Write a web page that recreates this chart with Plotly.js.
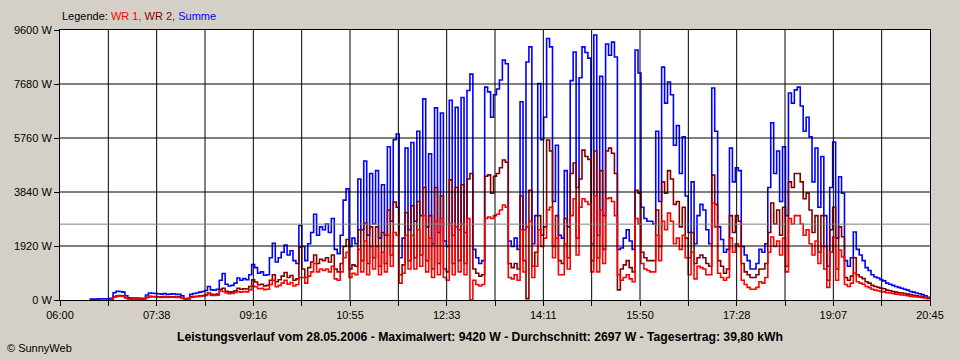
<!DOCTYPE html>
<html><head><meta charset="utf-8">
<script src="https://cdn.plot.ly/plotly-3.0.1.min.js"></script>
<style>html,body{margin:0;padding:0;background:#D4D0C8;}#chart{width:960px;height:360px;}</style>
</head><body><div id="chart"></div>
<script>
// ---- data ----
const dayStart = "06:00";
const dayEnd = "20:45";
const firstSample = "06:30";
const stepMinutes = 3;

const summe = [
 30,30,30,40,40,40,40,60,260,310,
 300,280,150,80,70,70,70,60,60,180,
 250,240,230,220,210,230,200,210,220,200,
 200,150,30,60,200,230,250,280,300,340,
 480,360,350,380,700,940,560,500,520,600,
 780,700,760,720,900,1260,1150,950,1000,880,
 900,1500,2020,1350,1500,1700,1950,1600,1750,1400,
 1300,2650,1900,1400,2000,2400,3050,2300,2600,2500,
 2700,2400,2900,1800,1650,2300,3550,3950,1900,2200,
 2000,4300,2500,4940,2300,4500,2700,4600,2200,4100,
 2300,5450,2800,5700,5900,1500,2200,5400,2500,5600,
 2800,6000,3000,7150,2600,5200,2000,6830,2400,6650,
 2100,1900,7100,2300,6850,2500,7200,2400,7450,8030,
 1800,1500,1300,1400,7570,7400,6500,7300,7500,7820,
 8530,8400,2100,1900,2200,1800,7050,2500,8460,9000,
 2000,3000,7700,5700,6500,9300,9000,3500,5500,2300,
 2200,4600,2600,7800,8820,4000,7900,9000,8800,8600,
 2000,9420,2300,7950,3000,9100,8700,9170,8640,1800,
 1850,2200,2500,2100,1800,8890,8070,3300,2900,2800,
 2800,2700,6000,3500,8280,7000,7750,7300,5500,6200,
 4500,5800,3700,2400,4200,2000,3000,3400,3200,2500,
 2000,7540,6000,2600,2150,1700,1800,5400,4200,4700,
 4600,1900,1600,1400,1100,1100,1300,1800,1700,2000,
 4000,6300,4500,5300,3500,5450,3000,7360,7000,7470,
 7570,6900,6000,6500,5800,4200,5400,3300,5100,3000,
 1200,4000,5620,2200,4380,3800,1400,1200,1500,2420,
 1800,1600,1400,1150,1050,900,820,780,720,680,
 600,560,520,480,450,420,380,350,300,280,
 250,220,190,150,100,60
];

const wr2 = [
 null,null,null,null,null,null,null,20,120,150,
 160,150,80,40,40,40,35,30,30,100,
 130,125,120,115,110,120,105,110,115,105,
 110,80,20,30,110,125,135,150,160,180,
 250,200,190,210,380,420,310,280,290,330,
 420,380,400,390,480,720,640,540,560,500,
 520,700,900,650,720,850,980,800,870,700,
 750,1880,1100,800,1150,1350,1600,1300,1450,1400,
 1500,1350,1600,1100,1000,1300,1900,2150,1100,1250,
 1200,2500,1400,2740,1300,2600,1500,2600,1200,2400,
 1300,3200,1600,3480,3300,900,1250,3100,1400,3350,
 1500,3500,1600,4000,1400,3000,1100,4000,1300,3700,
 1100,1000,4270,1300,4000,1400,4100,1300,4300,4500,
 1100,950,850,900,4400,4450,3800,4400,4500,4700,
 4980,4900,1300,1150,1300,1100,3700,1400,50,3900,
 1200,1700,3000,2300,2600,5690,5300,1900,3000,1400,
 1300,2900,1500,4500,4870,2200,4300,5330,5100,5000,
 1400,5300,1500,4600,1800,5300,5400,5220,4500,360,
 1100,1250,1400,1150,1000,3900,3800,1700,1500,1400,
 1400,1400,3200,1900,4200,3800,4600,4300,3400,3500,
 2600,3300,2200,1500,2400,1300,1500,1600,1500,1300,
 1200,4440,3400,1400,1200,950,1100,3000,2400,3000,
 2800,1300,1000,900,800,800,900,1100,1100,1300,
 2400,3450,2700,3200,2300,3300,1200,4200,4000,4500,
 4500,4200,3600,3800,3200,2400,3000,1700,3000,1900,
 700,2500,3300,1100,2600,2250,800,700,850,1500,
 900,820,760,650,600,520,480,450,420,400,
 350,330,300,280,260,250,230,210,190,170,
 150,130,110,90,60,40
];

const wr1 = [
 null,null,null,null,null,null,null,20,100,130,
 140,130,70,35,35,35,30,30,30,80,
 110,110,105,100,95,105,95,100,100,95,
 90,70,15,30,90,105,115,130,140,160,
 230,160,160,170,320,300,250,220,230,270,
 300,280,300,290,360,500,470,400,420,370,
 380,550,700,470,520,600,700,560,620,500,
 550,800,800,600,850,1000,1300,1000,1100,1050,
 1100,1000,1200,750,700,1000,1500,1700,800,950,
 900,1800,1000,2100,900,1900,1100,1900,900,1700,
 1000,2300,1200,2400,2300,600,950,2300,1100,2300,
 1100,2500,1200,3000,1000,2200,800,2800,900,2900,
 800,700,2700,900,2600,1000,2700,900,2900,0,
 700,550,500,550,2900,2950,2900,3000,3050,3200,
 3380,3300,800,750,900,700,2500,1000,2600,2800,
 800,1200,2500,1900,2200,3200,3300,1500,2200,900,
 900,2000,1100,3000,3600,1600,3300,3600,3500,3400,
 1000,3700,1000,3200,1300,3600,3630,3500,3000,900,
 700,800,900,750,650,2900,2700,1300,1100,1050,
 1000,1000,2300,1400,2800,2500,3090,2800,2000,2200,
 1800,2300,1500,900,1700,750,1200,1150,1100,900,
 900,3450,2600,950,800,700,800,2200,1700,2000,
 1900,700,550,450,380,380,450,650,600,800,
 1700,2240,1900,2100,1600,2200,1000,2900,2700,3000,
 3000,2700,2300,2500,2000,1600,2100,1300,1900,1100,
 450,1700,2240,700,1780,1530,550,480,600,960,
 650,600,560,480,440,380,350,330,300,290,
 260,250,230,210,200,180,170,150,130,120,
 110,100,80,70,50,30
];

const xTickLabels = ["06:00","07:38","09:16","10:55","12:33","14:11","15:50","17:28","19:07","20:45"];
const yTickValues = [0,1920,3840,5760,7680,9600];
const yTickLabels = ["0 W","1920 W","3840 W","5760 W","7680 W","9600 W"];
const average = 2697;
const seriesNames = ["WR 1","WR 2","Summe"];
const chartTitle = "Leistungsverlauf vom 28.05.2006 - Maximalwert: 9420 W - Durchschnitt: 2697 W - Tagesertrag: 39,80 kWh";
const copyright = "\u00A9 SunnyWeb";

// ---- build ----
function toMin(s){const p=s.split(":");return (+p[0])*60+(+p[1]);}
const t0 = toMin(dayStart), tEnd = toMin(dayEnd) - t0;
const first = toMin(firstSample) - t0;
const xs = summe.map((_,i)=>first + i*stepMinutes);

const colors = {wr1:"#FF0000", wr2:"#800000", sum:"#0000FF"};

// tick grid: labels at every 2nd gridline
const nGrid = (xTickLabels.length-1)*2;
const gridVals = [], gridText = [];
for(let k=0;k<=nGrid;k++){gridVals.push(tEnd*k/nGrid); gridText.push(k%2===0?xTickLabels[k/2]:"");}

const shapes = [];
for(let k=1;k<nGrid;k++) shapes.push({type:"line",xref:"x",yref:"paper",x0:gridVals[k],x1:gridVals[k],y0:0,y1:1,line:{color:"#000",width:1},layer:"above"});
for(let k=1;k<yTickValues.length-1;k++) shapes.push({type:"line",xref:"paper",yref:"y",x0:0,x1:1,y0:yTickValues[k],y1:yTickValues[k],line:{color:"#000",width:1},layer:"above"});
shapes.push({type:"line",xref:"paper",yref:"y",x0:0,x1:1,y0:average,y1:average,line:{color:"#808080",width:1},layer:"above"});

const mk = (y,name,c)=>({x:xs,y:y,name:name,type:"scatter",mode:"lines",line:{color:c,width:1.6,shape:"hv"},connectgaps:false,hoverinfo:"skip"});
const traces = [mk(summe,seriesNames[2],colors.sum), mk(wr2,seriesNames[1],colors.wr2), mk(wr1,seriesNames[0],colors.wr1)];

const font = "Liberation Sans, Arial, sans-serif";
const layout = {
  width:960, height:360,
  paper_bgcolor:"#D4D0C8", plot_bgcolor:"#FFFFFF",
  margin:{l:60,r:30,t:30,b:60,pad:0},
  showlegend:false,
  font:{family:font,size:11,color:"#000"},
  xaxis:{range:[0,tEnd],tickvals:gridVals,ticktext:gridText,ticks:"outside",ticklen:5,tickcolor:"#000",tickwidth:1,
    showgrid:false,zeroline:false,showline:true,mirror:true,linecolor:"#000",linewidth:1,layer:"above traces",
    tickfont:{family:font,size:11,color:"#000"},fixedrange:true},
  yaxis:{range:[0,yTickValues[yTickValues.length-1]],tickvals:yTickValues,ticktext:yTickLabels,ticks:"outside",ticklen:5,tickcolor:"#000",tickwidth:1,
    showgrid:false,zeroline:false,showline:true,mirror:true,linecolor:"#000",linewidth:1,layer:"above traces",
    tickfont:{family:font,size:11,color:"#000"},fixedrange:true},
  shapes:shapes,
  annotations:[
    {xref:"paper",yref:"paper",x:0,y:1.052,xanchor:"left",yanchor:"middle",showarrow:false,
     text:"Legende: <span style='color:"+colors.wr1+"'>"+seriesNames[0]+",</span> <span style='color:"+colors.wr2+"'>"+seriesNames[1]+",</span> <span style='color:"+colors.sum+"'>"+seriesNames[2]+"</span>",
     font:{family:font,size:11,color:"#000"}},
    {xref:"paper",yref:"paper",x:0.4828,y:-0.137,xanchor:"center",yanchor:"middle",showarrow:false,
     text:"<b>"+chartTitle+"</b>",font:{family:font,size:12.2,color:"#000"}},
    {xref:"paper",yref:"paper",x:-60/870+5/870,y:-0.178,xanchor:"left",yanchor:"middle",showarrow:false,
     text:copyright,font:{family:font,size:11,color:"#000"}}
  ]
};
Plotly.newPlot("chart",traces,layout,{staticPlot:true,displayModeBar:false});
</script></body></html>
